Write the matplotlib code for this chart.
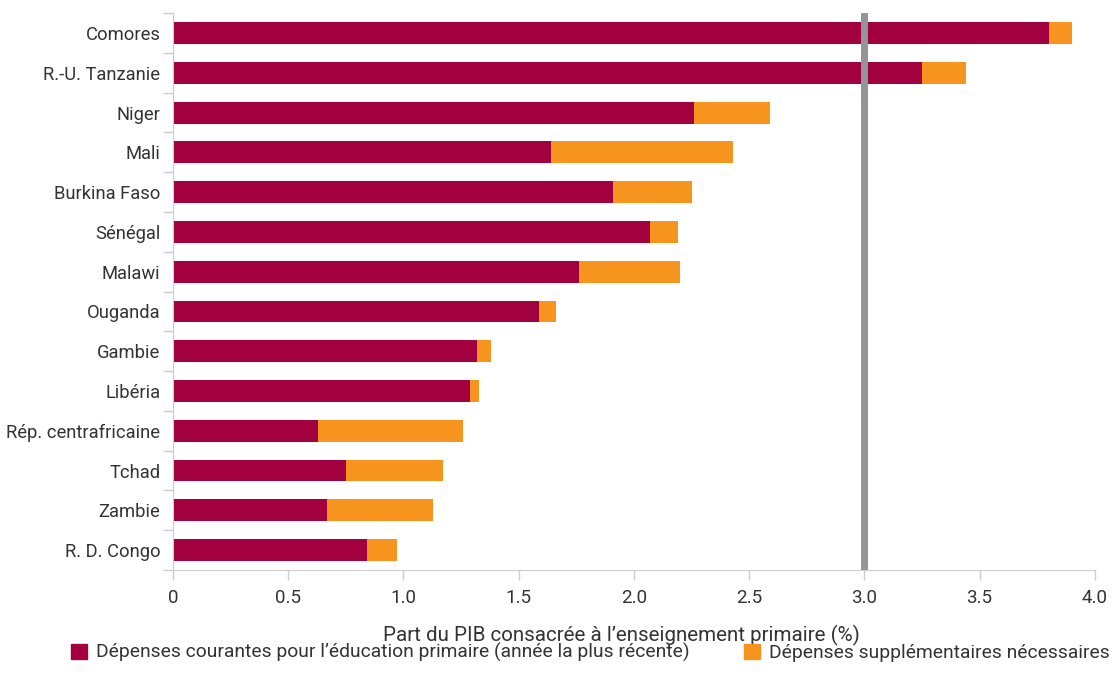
import numpy as np
import matplotlib.pyplot as plt
from matplotlib.patches import Patch

# Données (part du PIB, %)
pays = ["Comores", "R.-U. Tanzanie", "Niger", "Mali", "Burkina Faso", "Sénégal",
        "Malawi", "Ouganda", "Gambie", "Libéria", "Rép. centrafricaine",
        "Tchad", "Zambie", "R. D. Congo"]
depenses_courantes = [3.80, 3.25, 2.26, 1.64, 1.91, 2.07, 1.76, 1.59, 1.32, 1.29,
                      0.63, 0.75, 0.67, 0.84]
depenses_supp = [0.10, 0.19, 0.33, 0.79, 0.34, 0.12, 0.44, 0.07, 0.06, 0.04,
                 0.63, 0.42, 0.46, 0.13]
seuil = 3.0

rouge = "#A3003F"
orange = "#F7941D"
gris_txt = "#333333"
plt.rcParams['font.family'] = ['Roboto', 'DejaVu Sans']

fig = plt.figure(figsize=(11.16, 6.93), dpi=100)
ax = fig.add_axes([0.155, 0.1775, 0.826, 0.8035])

y = np.arange(len(pays))
ax.barh(y, depenses_courantes, height=0.55, color=rouge, zorder=2)
ax.barh(y, depenses_supp, left=depenses_courantes, height=0.55, color=orange, zorder=2)
ax.axvline(seuil, color="#939598", lw=5, zorder=3)

ax.set_ylim(len(pays) - 0.5, -0.5)
ax.set_xlim(0, 4.0)
ax.set_yticks(y)
ax.set_yticklabels(pays)
ax.set_yticks(np.arange(-0.5, len(pays), 1), minor=True)
ax.tick_params(axis='y', which='major', length=0, pad=9, labelsize=13.2, labelcolor=gris_txt)
ax.tick_params(axis='y', which='minor', length=7, color="#cccccc", width=1)
ax.set_xticks([0, 0.5, 1.0, 1.5, 2.0, 2.5, 3.0, 3.5, 4.0])
ax.set_xticklabels(["0", "0.5", "1.0", "1.5", "2.0", "2.5", "3.0", "3.5", "4.0"])
ax.tick_params(axis='x', length=7, color="#cccccc", width=1, labelsize=13.5,
               labelcolor=gris_txt, pad=7)
ax.set_xlabel("Part du PIB consacrée à l’enseignement primaire (%)", fontsize=14.8,
              color=gris_txt)
ax.xaxis.set_label_coords(0.487, -0.098)

for s in ["top", "right"]:
    ax.spines[s].set_visible(False)
for s in ["left", "bottom"]:
    ax.spines[s].set_color("#cccccc")

handles = [Patch(color=rouge, label="Dépenses courantes pour l’éducation primaire (année la plus récente)"),
           Patch(color=orange, label="Dépenses supplémentaires nécessaires")]
fig.legend(handles=handles, loc='center', bbox_to_anchor=(0.529, 0.058), ncol=2,
           frameon=False, fontsize=13.9, handlelength=0.85, handleheight=0.85,
           handletextpad=0.45, columnspacing=2.8, labelcolor=gris_txt)

fig.savefig("out.png", dpi=100)
